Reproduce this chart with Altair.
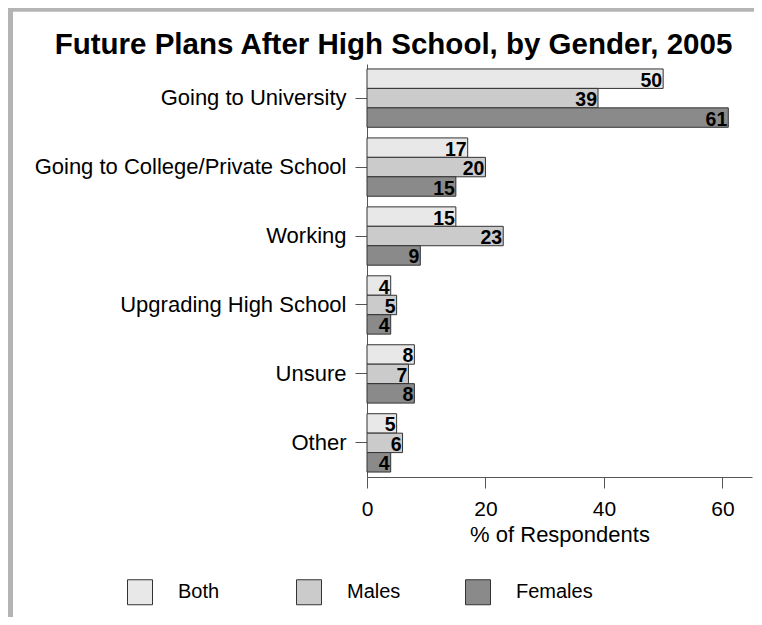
import altair as alt
import pandas as pd

categories = ["Going to University", "Going to College/Private School", "Working",
              "Upgrading High School", "Unsure", "Other"]
series = ["Both", "Males", "Females"]
both = [50, 17, 15, 4, 8, 5]
males = [39, 20, 23, 5, 7, 6]
females = [61, 15, 9, 4, 8, 4]
colors = ["#e8e8e8", "#cbcbcb", "#8a8a8a"]
x_ticks = [0, 20, 40, 60]

rows = []
for i, c in enumerate(categories):
    for s, vals in zip(series, [both, males, females]):
        rows.append({"Plan": c, "Group": s, "Value": vals[i]})
df = pd.DataFrame(rows)

FONT = "Liberation Sans"
W, H = 385, 413
PAD = {"left": 359, "top": 56, "right": 2, "bottom": 140}

base = alt.Chart(df).encode(
    y=alt.Y("Plan:N", sort=categories,
            scale=alt.Scale(paddingInner=0.154, paddingOuter=0.072),
            axis=alt.Axis(title=None, labelFontSize=22, labelFont=FONT, labelColor="black",
                          tickSize=12, tickColor="#555555", domainColor="#555555",
                          labelPadding=9, labelLimit=400, grid=False)),
    yOffset=alt.YOffset("Group:N", sort=series, scale=alt.Scale(paddingInner=0, paddingOuter=0)),
    x=alt.X("Value:Q", scale=alt.Scale(domain=[0, 65], nice=False),
            axis=alt.Axis(values=x_ticks, title="% of Respondents", grid=False,
                          labelFontSize=21, labelFont=FONT, labelColor="black", labelFlush=False,
                          titleFontSize=22, titleFont=FONT, titleFontWeight="normal",
                          titleColor="black", titlePadding=5,
                          tickSize=11, tickColor="#555555", domainColor="#555555",
                          labelPadding=10)),
)

bars = base.mark_bar(stroke="#333333", strokeWidth=1).encode(
    color=alt.Color("Group:N", sort=series,
                    scale=alt.Scale(domain=series, range=colors),
                    legend=alt.Legend(title=None, orient="none", direction="horizontal",
                                      legendX=-240, legendY=515, padding=0,
                                      symbolType="square", symbolSize=625,
                                      symbolStrokeColor="#333333", symbolStrokeWidth=1,
                                      labelFontSize=20, labelFont=FONT, labelColor="black",
                                      labelOffset=25, columnPadding=39, gridAlign="all"))
)

labels = base.mark_text(align="right", baseline="alphabetic", dx=-1, dy=8,
                        fontWeight="bold", fontSize=19.5, font=FONT, color="black").encode(
    text="Value:Q"
)

frame_df = pd.DataFrame({"k": [0]})
top_rule = alt.Chart(frame_df).mark_rule(color="#b4b4b4", strokeWidth=5).encode(
    x=alt.value(-359), x2=alt.value(400), y=alt.value(-54.8))
left_rule = alt.Chart(frame_df).mark_rule(color="#b4b4b4", strokeWidth=5).encode(
    x=alt.value(-356.5), y=alt.value(-54.8), y2=alt.value(H + 140))

chart = alt.layer(top_rule, left_rule, bars, labels).properties(
    width=W, height=H,
    title=alt.Title("Future Plans After High School, by Gender, 2005", fontSize=29.5,
                    fontWeight="bold", font=FONT, color="black", anchor="middle",
                    frame="group", baseline="alphabetic", dx=-166, offset=-76.5),
    autosize=alt.AutoSizeParams(type="none"),
    padding=PAD,
).configure_view(stroke=None)

chart.save("out.html", embed_options={"renderer": "svg", "actions": False})
